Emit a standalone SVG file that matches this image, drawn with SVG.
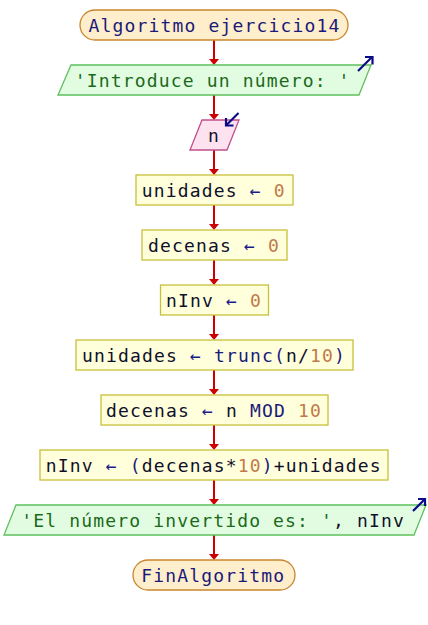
<svg xmlns="http://www.w3.org/2000/svg" width="428" height="625" viewBox="0 0 428 625">
<style>
text{font-family:"DejaVu Sans Mono","Liberation Mono",monospace;font-size:18px;letter-spacing:1.16px;fill:#10102a}
.term{fill:#ffeecb;stroke:#c8862e;stroke-width:1.3}
.proc{fill:#ffffdc;stroke:#c8c03a;stroke-width:1.3}
.out{fill:#e2fce2;stroke:#5ec05e;stroke-width:1.3}
.in{fill:#ffe2f0;stroke:#c0508a;stroke-width:1.3}
.kw{fill:#1a1a7a}
.op{fill:#1a1a8a}
.num{fill:#c07a4a}
.str{fill:#1a6a1a}
.icon{fill:none;stroke:#0a0a88;stroke-width:2.2}
.edge{stroke:#cc0000;stroke-width:2}
.head{fill:#cc0000}
</style>
<rect width="428" height="625" fill="#ffffff"/>
<g id="connectors">
<line class="edge" x1="214" y1="40" x2="214" y2="60"/><polygon class="head" points="209,59 219,59 214,65"/>
<line class="edge" x1="214" y1="95" x2="214" y2="115"/><polygon class="head" points="209,114 219,114 214,120"/>
<line class="edge" x1="214" y1="150" x2="214" y2="170"/><polygon class="head" points="209,169 219,169 214,175"/>
<line class="edge" x1="214" y1="205" x2="214" y2="225"/><polygon class="head" points="209,224 219,224 214,230"/>
<line class="edge" x1="214" y1="260" x2="214" y2="280"/><polygon class="head" points="209,279 219,279 214,285"/>
<line class="edge" x1="214" y1="315" x2="214" y2="335"/><polygon class="head" points="209,334 219,334 214,340"/>
<line class="edge" x1="214" y1="370" x2="214" y2="390"/><polygon class="head" points="209,389 219,389 214,395"/>
<line class="edge" x1="214" y1="425" x2="214" y2="445"/><polygon class="head" points="209,444 219,444 214,450"/>
<line class="edge" x1="214" y1="480" x2="214" y2="500"/><polygon class="head" points="209,499 219,499 214,505"/>
<line class="edge" x1="214" y1="535" x2="214" y2="555"/><polygon class="head" points="209,554 219,554 214,560"/>
</g>
<g id="start">
<rect class="term" x="80" y="10" width="268" height="30" rx="15" ry="15"/>
<text x="88.6" y="31.6" class="kw">Algoritmo ejercicio14</text>
</g>
<g id="out1">
<polygon class="out" points="71,65 371,65 359,95 58,95"/>
<text x="74.7" y="86.6" class="str">'Introduce un número: '</text>
<line class="icon" x1="358" y1="71" x2="372" y2="57"/>
<polyline class="icon" points="365,57 372.5,57 372.5,64.5"/>
</g>
<g id="in1">
<polygon class="in" points="202,120 239,120 227,150 190,150"/>
<text x="208" y="141.6">n</text>
<line class="icon" x1="238.5" y1="113" x2="226" y2="125.5"/>
<polyline class="icon" points="226,118 226,125.5 233.5,125.5"/>
</g>
<g id="p1">
<rect class="proc" x="136" y="175" width="157" height="30"/>
<text x="141.7" y="196.6">unidades <tspan class="op">←</tspan> <tspan class="num">0</tspan></text>
</g>
<g id="p2">
<rect class="proc" x="142" y="230" width="145" height="30"/>
<text x="148" y="251.6">decenas <tspan class="op">←</tspan> <tspan class="num">0</tspan></text>
</g>
<g id="p3">
<rect class="proc" x="160.5" y="285" width="108" height="30"/>
<text x="166" y="306.6">nInv <tspan class="op">←</tspan> <tspan class="num">0</tspan></text>
</g>
<g id="p4">
<rect class="proc" x="76" y="340" width="277" height="30"/>
<text x="82" y="361.6">unidades <tspan class="op">←</tspan> <tspan class="kw">trunc(</tspan>n/<tspan class="num">10</tspan><tspan class="kw">)</tspan></text>
</g>
<g id="p5">
<rect class="proc" x="101" y="395" width="227" height="30"/>
<text x="106" y="416.6">decenas <tspan class="op">←</tspan> n <tspan class="kw">MOD</tspan> <tspan class="num">10</tspan></text>
</g>
<g id="p6">
<rect class="proc" x="40" y="450" width="348" height="30"/>
<text x="45.7" y="471.6">nInv <tspan class="op">←</tspan> <tspan class="kw">(</tspan>decenas*<tspan class="num">10</tspan><tspan class="kw">)</tspan>+unidades</text>
</g>
<g id="out2">
<polygon class="out" points="16,505 426,505 414,535 4,535"/>
<text x="21.2" y="526.6"><tspan class="str">'El número invertido es: '</tspan>, nInv</text>
<line class="icon" x1="413" y1="511" x2="425" y2="499"/>
<polyline class="icon" points="418,499 425,499 425,506"/>
</g>
<g id="end">
<rect class="term" x="133" y="560" width="162" height="30" rx="15" ry="15"/>
<text x="141.2" y="581.6" class="kw">FinAlgoritmo</text>
</g>
</svg>
